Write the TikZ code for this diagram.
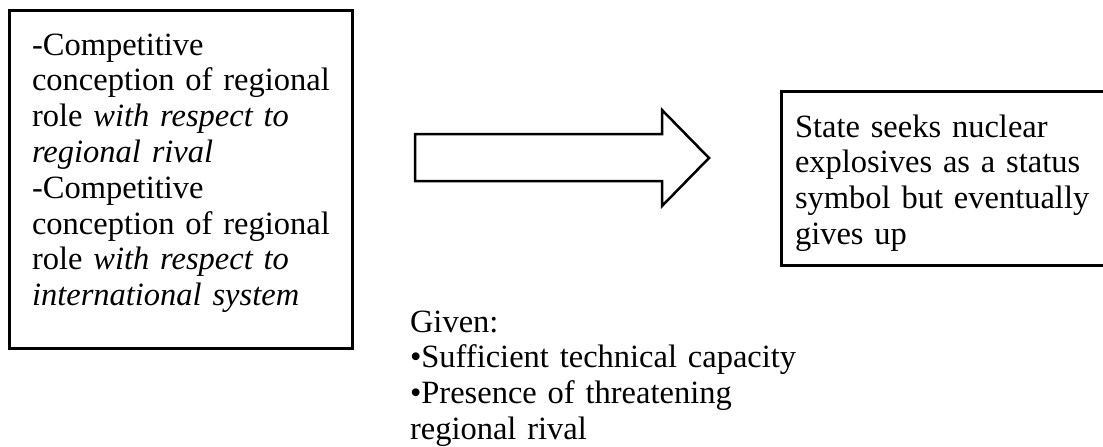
\documentclass[tikz,border=0pt]{standalone}
\usepackage{fontspec}
\setmainfont{Liberation Serif}
\begin{document}
\begin{tikzpicture}[x=1pt,y=-1pt,
  box/.style={draw, line width=3pt, inner sep=0pt, outer sep=0pt, anchor=north west},
  txt/.style={anchor=base west, inner sep=0pt, outer sep=0pt, text width=420pt, align=left,
              font=\fontsize{32.5}{35.8}\selectfont},
  blockarrow/.style={draw, line width=2.5pt, line join=miter}]
\clip (0,0) rectangle (1103,447);
% boxes
\node[box, minimum width=343pt, minimum height=338pt] (leftbox) at (9,10) {};
\node[box, minimum width=334pt, minimum height=174pt] (rightbox) at (781.5,91) {};
% texts
\node[txt] (lefttext) at (32,55) {-Competitive\\
conception of regional\\
role \textit{with respect to}\\
\textit{regional rival}\\
-Competitive\\
conception of regional\\
role \textit{with respect to}\\
\textit{international system}};
\node[txt] (righttext) at (795,137) {State seeks nuclear\\
explosives as a status\\
symbol but eventually\\
gives up};
\node[txt] (given) at (410,332) {Given:\\
•Sufficient technical capacity\\
•Presence of threatening\\
regional rival};
% block arrow
\draw[blockarrow] (415,134) -- (662,134) -- (662,110) -- (709,158) -- (662,206) -- (662,181) -- (415,181) -- cycle;
\end{tikzpicture}
\end{document}
